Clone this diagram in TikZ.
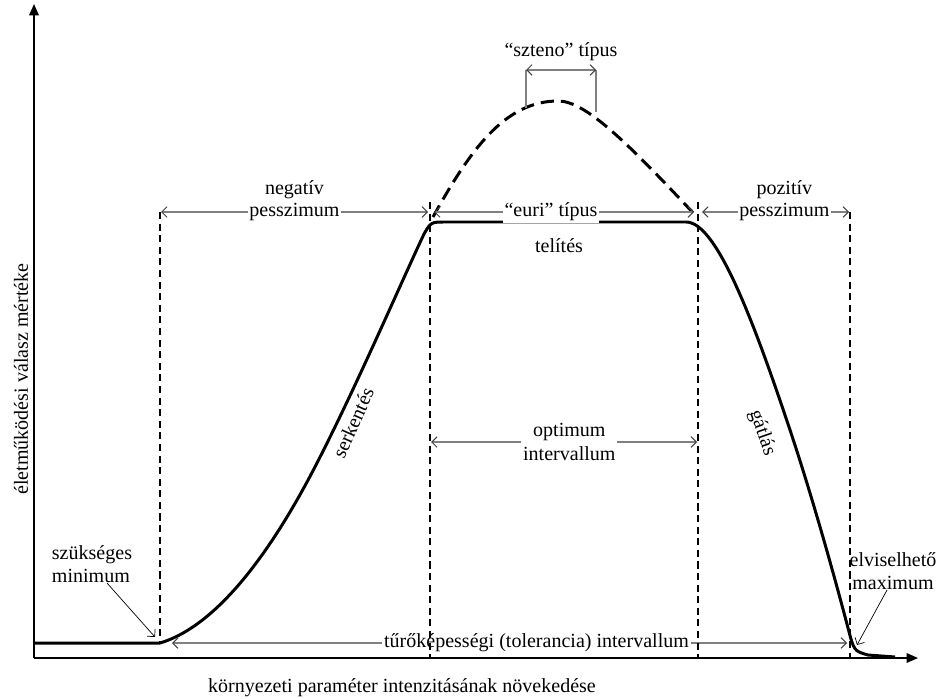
\documentclass[tikz,border=0pt]{standalone}
\usepackage{fontspec}
\setmainfont{Liberation Serif}
\usetikzlibrary{arrows.meta,positioning,calc}

\begin{document}
\begin{tikzpicture}[x=0.02cm,y=-0.02cm,
  font=\fontsize{11.4}{13.5}\selectfont,
  tengely/.style={line width=0.8pt,-{Triangle[length=6.5pt,width=5.5pt]}},
  gorbe/.style={line width=1.7pt,line join=round},
  szaggatott/.style={line width=0.7pt,dash pattern=on 4pt off 2.6pt},
  meret/.style={draw=black!50,line width=0.6pt,{Straight Barb[length=3pt,width=6pt,color=black!75]}-{Straight Barb[length=3pt,width=6pt,color=black!75]}},
  felirat/.style={fill=white,inner sep=1pt,align=center},
  mutato/.style={line width=0.4pt,-{Straight Barb[length=3pt,width=6pt]}}]
  \useasboundingbox (0,0) rectangle (939,699);
  %TENGELYEK
  \coordinate (O) at (34,658);
  \coordinate (Ycsucs) at (34,4);
  \coordinate (Xcsucs) at (918,658);
  \draw[tengely] (O) -- (Ycsucs);
  \draw[tengely] (O) -- (Xcsucs);
  \node[rotate=90] (ycim) at (21,379) {életműködési válasz mértéke};
  \node (xcim) at (402,688) {környezeti paraméter intenzitásának növekedése};
  %GORBE
  \draw[gorbe] (34,643) -- (160,643)
    .. controls (220,625) and (275,545) .. (317,463)
    .. controls (357,385) and (400,285) .. (424,234)
    .. controls (431,222) .. (446,222)
    -- (686,222)
    .. controls (715,222) and (750,310) .. (790,430)
    .. controls (815,505) and (838,590) .. (848,628)
    .. controls (854,651) .. (868,655)
    -- (895,657);
  %SZTENO
  \draw[gorbe,dash pattern=on 7.5pt off 4pt] (433,217) .. controls (470,150) and (505,101) .. (558,101)
    .. controls (585,101) and (625,140) .. (697,217);
  \coordinate (sA) at (526,70);
  \coordinate (sAl) at (526,108);
  \coordinate (sB) at (596,70);
  \coordinate (sBl) at (596,112);
  \draw[draw=black!50,line width=0.6pt] (sAl) -- (sA);
  \draw[draw=black!50,line width=0.6pt] (sBl) -- (sB);
  \draw[meret] (sA) -- (sB);
  \node (sztC) at (561,52) {``szteno'' típus};
  %INTERVALLUMOK
  \coordinate (nA) at (161,212);
  \coordinate (nB) at (428,212);
  \coordinate (eA) at (434,212);
  \coordinate (eB) at (694,212);
  \coordinate (pA) at (702,212);
  \coordinate (pB) at (849,212);
  \coordinate (oA) at (431,442);
  \coordinate (oB) at (697,442);
  \coordinate (tA) at (172,643);
  \coordinate (tB) at (847,643);
  \draw[meret] (nA) -- node[felirat] (negP) {pesszimum} (nB);
  \node[inner sep=1pt,above=0pt of negP] (negN) {negatív};
  \draw[meret] (eA) -- node[felirat,pos=0.45] (euri) {``euri'' típus} (eB);
  \draw[meret] (pA) -- node[felirat,pos=0.56] (pozP) {pesszimum} (pB);
  \node[inner sep=1pt,above=0pt of pozP] (pozN) {pozitív};
  \draw[meret] (oA) -- node[felirat,pos=0.52] (opt) {optimum\\intervallum} (oB);
  \draw[meret] (tA) -- node[felirat,pos=0.54] (tol) {tűrőképességi (tolerancia) intervallum} (tB);
  \node (telit) at (559,246) {telítés};
  \node[rotate=66] (serk) at (353,423) {serkentés};
  \node[rotate=-71] (gatl) at (762,433) {gátlás};
  %HATAROK
  \coordinate (minFent) at (160,212);
  \coordinate (minPt) at (160,643);
  \coordinate (optBF) at (430,202);
  \coordinate (optBL) at (430,658);
  \coordinate (optJF) at (698,202);
  \coordinate (optJL) at (698,658);
  \coordinate (maxFent) at (850,212);
  \coordinate (maxAlul) at (850,658);
  \draw[szaggatott] (minFent) -- (minPt);
  \draw[szaggatott] (optBF) -- (optBL);
  \draw[szaggatott] (optJF) -- (optJL);
  \draw[szaggatott] (maxFent) -- (maxAlul);
  %MINIMUM ES MAXIMUM
  \node[align=left,inner sep=1pt] (minLbl) at (92,564) {szükséges\\minimum};
  \node[align=center,inner sep=1pt] (maxLbl) at (893,571) {elviselhető\\maximum};
  \coordinate (minNyil) at (155,637);
  \coordinate (maxNyil) at (857,645);
  \draw[mutato] ($(minLbl.south)+(15,-2)$) -- (minNyil);
  \draw[mutato] ($(maxLbl.south)+(-6,-2)$) -- (maxNyil);
\end{tikzpicture}
\end{document}
